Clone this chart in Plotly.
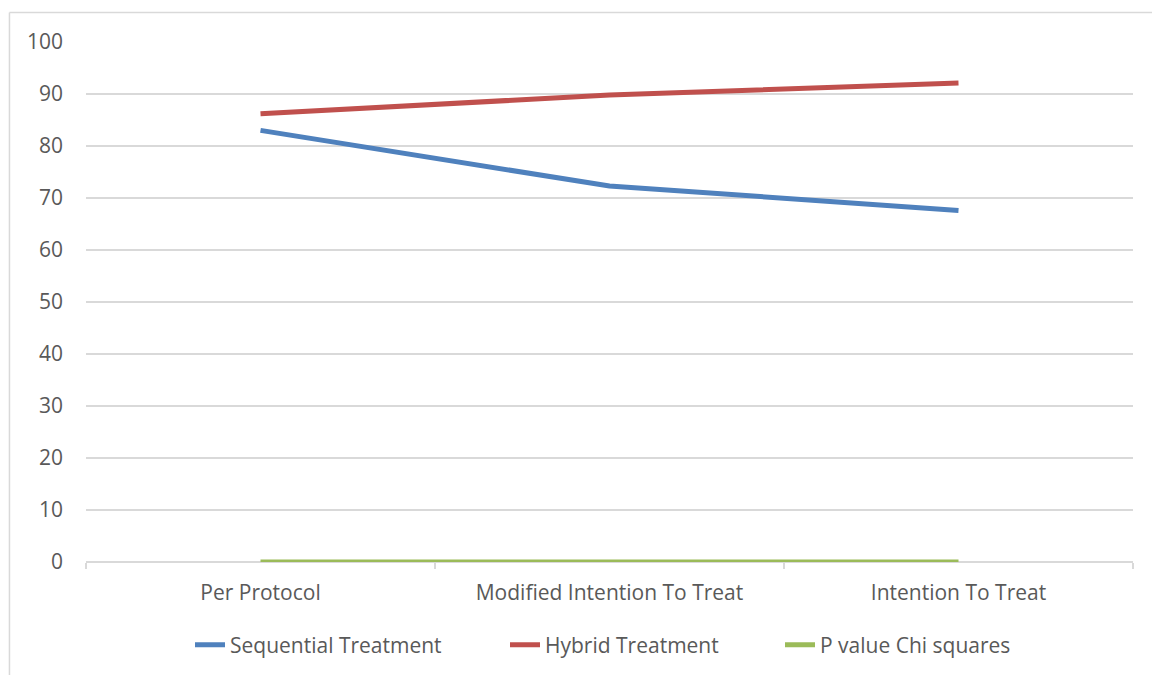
import plotly.graph_objects as go

categories = ["Per Protocol", "Modified Intention To Treat", "Intention To Treat"]
sequential = [83.0, 72.3, 67.6]
hybrid = [86.2, 89.8, 92.1]
p_value = [0.0, 0.0, 0.0]
y_ticks = [0, 10, 20, 30, 40, 50, 60, 70, 80, 90, 100]

W, H = 1152, 675
series = [
    ("Sequential Treatment", sequential, "#4f81bd", "legend", 190),
    ("Hybrid Treatment", hybrid, "#c0504d", "legend2", 505),
    ("P value Chi squares", p_value, "#9bbb59", "legend3", 780),
]

grid = "#d9d9d9"
text_color = "#595959"

fig = go.Figure()
legends = {}
for name, vals, color, leg, lx in series:
    fig.add_trace(go.Scatter(
        x=categories, y=vals, name=name, mode="lines",
        line=dict(color=color, width=5), legend=leg,
    ))
    legends[leg] = dict(
        xref="container", yref="container",
        x=lx / W, xanchor="left", y=1 - 645 / H, yanchor="middle",
        orientation="h", font=dict(size=21, color=text_color),
        bgcolor="rgba(0,0,0,0)",
    )

fig.update_layout(
    width=W, height=H,
    margin=dict(l=86, r=19, t=42, b=113, autoexpand=False),
    paper_bgcolor="white", plot_bgcolor="white",
    font=dict(family="Open Sans", size=21, color=text_color),
    showlegend=True,
    xaxis=dict(
        type="category", range=[-0.5, 2.5],
        showgrid=False, zeroline=False,
        showline=False,
        ticks="outside", tickson="boundaries", ticklen=6, tickcolor=grid, tickwidth=1.5,
        ticklabelstandoff=16,
    ),
    yaxis=dict(
        range=[0, 100], tickvals=y_ticks,
        showgrid=True, gridcolor=grid, gridwidth=1.5,
        zeroline=True, zerolinecolor=grid, zerolinewidth=1.5,
        showline=False, ticks="", ticklabelstandoff=22,
    ),
    shapes=[
        dict(type="line", xref="paper", yref="paper",
             x0=-0.0731, x1=1.02, y0=1.0567, y1=1.0567,
             line=dict(color=grid, width=1.5)),
        dict(type="line", xref="paper", yref="paper",
             x0=-0.0731, x1=-0.0731, y0=1.0567, y1=-0.22,
             line=dict(color=grid, width=1.5)),
    ],
    **legends,
)

fig.write_html("out.html")
